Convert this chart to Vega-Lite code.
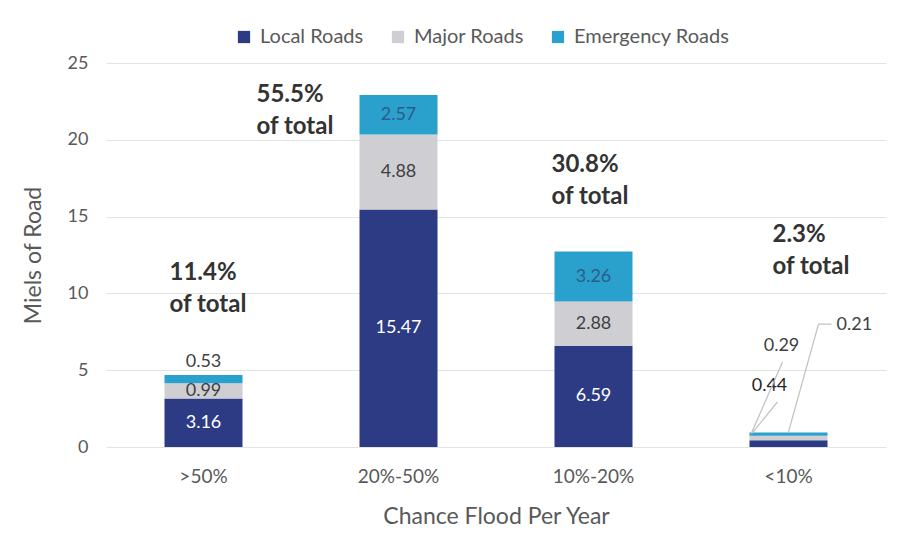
{
  "$schema": "https://vega.github.io/schema/vega-lite/v6.json",
  "width": 780,
  "height": 384,
  "autosize": "none",
  "padding": {"left": 106, "top": 63, "right": 15, "bottom": 103},
  "background": "white",
  "config": {
    "font": "Lato",
    "view": {"stroke": null},
    "axis": {
      "labelFont": "Lato",
      "titleFont": "Lato",
      "labelColor": "#595959",
      "titleColor": "#595959",
      "titleFontWeight": "normal",
      "gridColor": "#e3e3e3",
      "ticks": false,
      "domain": false
    }
  },
  "datasets": {
    "roads": [
      {"category": ">50%", "type": "Local Roads", "order": 1, "miles": 3.16},
      {"category": ">50%", "type": "Major Roads", "order": 2, "miles": 0.99},
      {"category": ">50%", "type": "Emergency Roads", "order": 3, "miles": 0.53},
      {"category": "20%-50%", "type": "Local Roads", "order": 1, "miles": 15.47},
      {"category": "20%-50%", "type": "Major Roads", "order": 2, "miles": 4.88},
      {"category": "20%-50%", "type": "Emergency Roads", "order": 3, "miles": 2.57},
      {"category": "10%-20%", "type": "Local Roads", "order": 1, "miles": 6.59},
      {"category": "10%-20%", "type": "Major Roads", "order": 2, "miles": 2.88},
      {"category": "10%-20%", "type": "Emergency Roads", "order": 3, "miles": 3.26},
      {"category": "<10%", "type": "Local Roads", "order": 1, "miles": 0.44},
      {"category": "<10%", "type": "Major Roads", "order": 2, "miles": 0.29},
      {"category": "<10%", "type": "Emergency Roads", "order": 3, "miles": 0.21}
    ],
    "notes": [
      {"category": ">50%", "share": "11.4%\nof total"},
      {"category": "20%-50%", "share": "55.5%\nof total"},
      {"category": "10%-20%", "share": "30.8%\nof total"},
      {"category": "<10%", "share": "2.3%\nof total"}
    ]
  },
  "layer": [
    {
      "data": {"name": "roads"},
      "transform": [
        {"stack": "miles", "groupby": ["category"], "sort": [{"field": "order"}], "as": ["y0", "y1"]},
        {"calculate": "(datum.y0 + datum.y1) / 2", "as": "mid"}
      ],
      "layer": [
        {
          "mark": {"type": "bar"},
          "encoding": {
            "x": {
              "field": "category", "type": "nominal",
              "sort": [">50%", "20%-50%", "10%-20%", "<10%"],
              "scale": {"paddingInner": 0.6, "paddingOuter": 0.3},
              "axis": {"title": "Chance Flood Per Year", "labelAngle": 0, "labelFontSize": 19, "labelPadding": 20, "titleFontSize": 23, "titlePadding": 19, "grid": false}
            },
            "y": {
              "field": "y0", "type": "quantitative",
              "scale": {"domain": [0, 25], "nice": false},
              "axis": {"title": "Miels of Road", "values": [0, 5, 10, 15, 20, 25], "labelFontSize": 18, "labelPadding": 18, "titleFontSize": 23, "titlePadding": 22}
            },
            "y2": {"field": "y1"},
            "color": {
              "field": "type", "type": "nominal",
              "scale": {"domain": ["Local Roads", "Major Roads", "Emergency Roads"], "range": ["#2d3b84", "#cfcfd3", "#2aa0cc"]},
              "legend": {
                "title": null, "orient": "none", "direction": "horizontal",
                "legendX": 128, "legendY": -36,
                "symbolType": "square", "symbolSize": 150, "symbolStrokeWidth": 0,
                "labelFontSize": 20, "labelColor": "#595959", "columnPadding": 24, "labelOffset": 6
              }
            }
          }
        },
        {
          "transform": [{"filter": "datum.type == 'Local Roads' && datum.category != '<10%'"}],
          "mark": {"type": "text", "color": "white", "fontSize": 18, "baseline": "middle"},
          "encoding": {
            "x": {"field": "category", "type": "nominal", "sort": [">50%", "20%-50%", "10%-20%", "<10%"]},
            "y": {"field": "mid", "type": "quantitative"},
            "text": {"field": "miles", "type": "quantitative", "format": ".2f"}
          }
        },
        {
          "transform": [{"filter": "datum.type == 'Major Roads' && datum.category != '<10%'"}],
          "mark": {"type": "text", "color": "#404040", "fontSize": 18, "baseline": "middle"},
          "encoding": {
            "x": {"field": "category", "type": "nominal", "sort": [">50%", "20%-50%", "10%-20%", "<10%"]},
            "y": {"field": "mid", "type": "quantitative"},
            "text": {"field": "miles", "type": "quantitative", "format": ".2f"}
          }
        },
        {
          "transform": [{"filter": "datum.type == 'Emergency Roads' && (datum.category == '20%-50%' || datum.category == '10%-20%')"}],
          "mark": {"type": "text", "color": "#2c5d88", "fontSize": 18, "baseline": "middle"},
          "encoding": {
            "x": {"field": "category", "type": "nominal", "sort": [">50%", "20%-50%", "10%-20%", "<10%"]},
            "y": {"field": "mid", "type": "quantitative"},
            "text": {"field": "miles", "type": "quantitative", "format": ".2f"}
          }
        },
        {
          "transform": [{"filter": "datum.type == 'Emergency Roads' && datum.category == '>50%'"}],
          "mark": {"type": "text", "color": "#404040", "fontSize": 18, "baseline": "bottom", "dy": -4},
          "encoding": {
            "x": {"field": "category", "type": "nominal", "sort": [">50%", "20%-50%", "10%-20%", "<10%"]},
            "y": {"field": "y1", "type": "quantitative"},
            "text": {"field": "miles", "type": "quantitative", "format": ".2f"}
          }
        },
        {
          "transform": [{"filter": "datum.type == 'Local Roads' && datum.category == '<10%'"}],
          "mark": {"type": "text", "color": "#262626", "fontSize": 18, "baseline": "middle", "dx": -19},
          "encoding": {
            "x": {"field": "category", "type": "nominal", "sort": [">50%", "20%-50%", "10%-20%", "<10%"]},
            "y": {"datum": 3.97},
            "text": {"field": "miles", "type": "quantitative", "format": ".2f"}
          }
        },
        {
          "transform": [{"filter": "datum.type == 'Major Roads' && datum.category == '<10%'"}],
          "mark": {"type": "text", "color": "#404040", "fontSize": 18, "baseline": "middle", "dx": -7},
          "encoding": {
            "x": {"field": "category", "type": "nominal", "sort": [">50%", "20%-50%", "10%-20%", "<10%"]},
            "y": {"datum": 6.58},
            "text": {"field": "miles", "type": "quantitative", "format": ".2f"}
          }
        },
        {
          "transform": [{"filter": "datum.type == 'Emergency Roads' && datum.category == '<10%'"}],
          "mark": {"type": "text", "color": "#404040", "fontSize": 18, "baseline": "middle", "align": "left", "dx": 48},
          "encoding": {
            "x": {"field": "category", "type": "nominal", "sort": [">50%", "20%-50%", "10%-20%", "<10%"]},
            "y": {"datum": 7.94},
            "text": {"field": "miles", "type": "quantitative", "format": ".2f"}
          }
        },
        {
          "transform": [{"filter": "datum.type == 'Local Roads' && datum.category == '<10%'"}],
          "mark": {"type": "rule", "color": "#bfbfbf", "strokeWidth": 1.2, "xOffset": -37, "x2Offset": -11},
          "encoding": {
            "x": {"field": "category", "type": "nominal", "sort": [">50%", "20%-50%", "10%-20%", "<10%"]},
            "x2": {"field": "category"},
            "y": {"datum": 0.85},
            "y2": {"datum": 2.93}
          }
        },
        {
          "transform": [{"filter": "datum.type == 'Major Roads' && datum.category == '<10%'"}],
          "mark": {"type": "rule", "color": "#bfbfbf", "strokeWidth": 1.2, "xOffset": -37, "x2Offset": -6},
          "encoding": {
            "x": {"field": "category", "type": "nominal", "sort": [">50%", "20%-50%", "10%-20%", "<10%"]},
            "x2": {"field": "category"},
            "y": {"datum": 0.91},
            "y2": {"datum": 5.53}
          }
        },
        {
          "transform": [{"filter": "datum.type == 'Emergency Roads' && datum.category == '<10%'"}],
          "mark": {"type": "rule", "color": "#bfbfbf", "strokeWidth": 1.2, "xOffset": 0, "x2Offset": 30},
          "encoding": {
            "x": {"field": "category", "type": "nominal", "sort": [">50%", "20%-50%", "10%-20%", "<10%"]},
            "x2": {"field": "category"},
            "y": {"datum": 0.98},
            "y2": {"datum": 8.0}
          }
        },
        {
          "transform": [{"filter": "datum.type == 'Emergency Roads' && datum.category == '<10%'"}],
          "mark": {"type": "rule", "color": "#bfbfbf", "strokeWidth": 1.2, "xOffset": 30, "x2Offset": 43},
          "encoding": {
            "x": {"field": "category", "type": "nominal", "sort": [">50%", "20%-50%", "10%-20%", "<10%"]},
            "x2": {"field": "category"},
            "y": {"datum": 8.0}
          }
        }
      ]
    },
    {
      "data": {"name": "notes"},
      "layer": [
        {
          "transform": [{"filter": "datum.category == '>50%'"}],
          "mark": {"type": "text", "fontSize": 24, "fontWeight": "bold", "color": "#333333", "align": "left", "baseline": "alphabetic", "lineBreak": "\n", "lineHeight": 32, "dx": -34},
          "encoding": {
            "x": {"field": "category", "type": "nominal", "sort": [">50%", "20%-50%", "10%-20%", "<10%"]},
            "y": {"datum": 10.85},
            "text": {"field": "share"}
          }
        },
        {
          "transform": [{"filter": "datum.category == '20%-50%'"}],
          "mark": {"type": "text", "fontSize": 24, "fontWeight": "bold", "color": "#333333", "align": "left", "baseline": "alphabetic", "lineBreak": "\n", "lineHeight": 32, "dx": -142},
          "encoding": {
            "x": {"field": "category", "type": "nominal", "sort": [">50%", "20%-50%", "10%-20%", "<10%"]},
            "y": {"datum": 22.46},
            "text": {"field": "share"}
          }
        },
        {
          "transform": [{"filter": "datum.category == '10%-20%'"}],
          "mark": {"type": "text", "fontSize": 24, "fontWeight": "bold", "color": "#333333", "align": "left", "baseline": "alphabetic", "lineBreak": "\n", "lineHeight": 32, "dx": -42},
          "encoding": {
            "x": {"field": "category", "type": "nominal", "sort": [">50%", "20%-50%", "10%-20%", "<10%"]},
            "y": {"datum": 17.9},
            "text": {"field": "share"}
          }
        },
        {
          "transform": [{"filter": "datum.category == '<10%'"}],
          "mark": {"type": "text", "fontSize": 24, "fontWeight": "bold", "color": "#333333", "align": "left", "baseline": "alphabetic", "lineBreak": "\n", "lineHeight": 32, "dx": -16},
          "encoding": {
            "x": {"field": "category", "type": "nominal", "sort": [">50%", "20%-50%", "10%-20%", "<10%"]},
            "y": {"datum": 13.35},
            "text": {"field": "share"}
          }
        }
      ]
    }
  ]
}
